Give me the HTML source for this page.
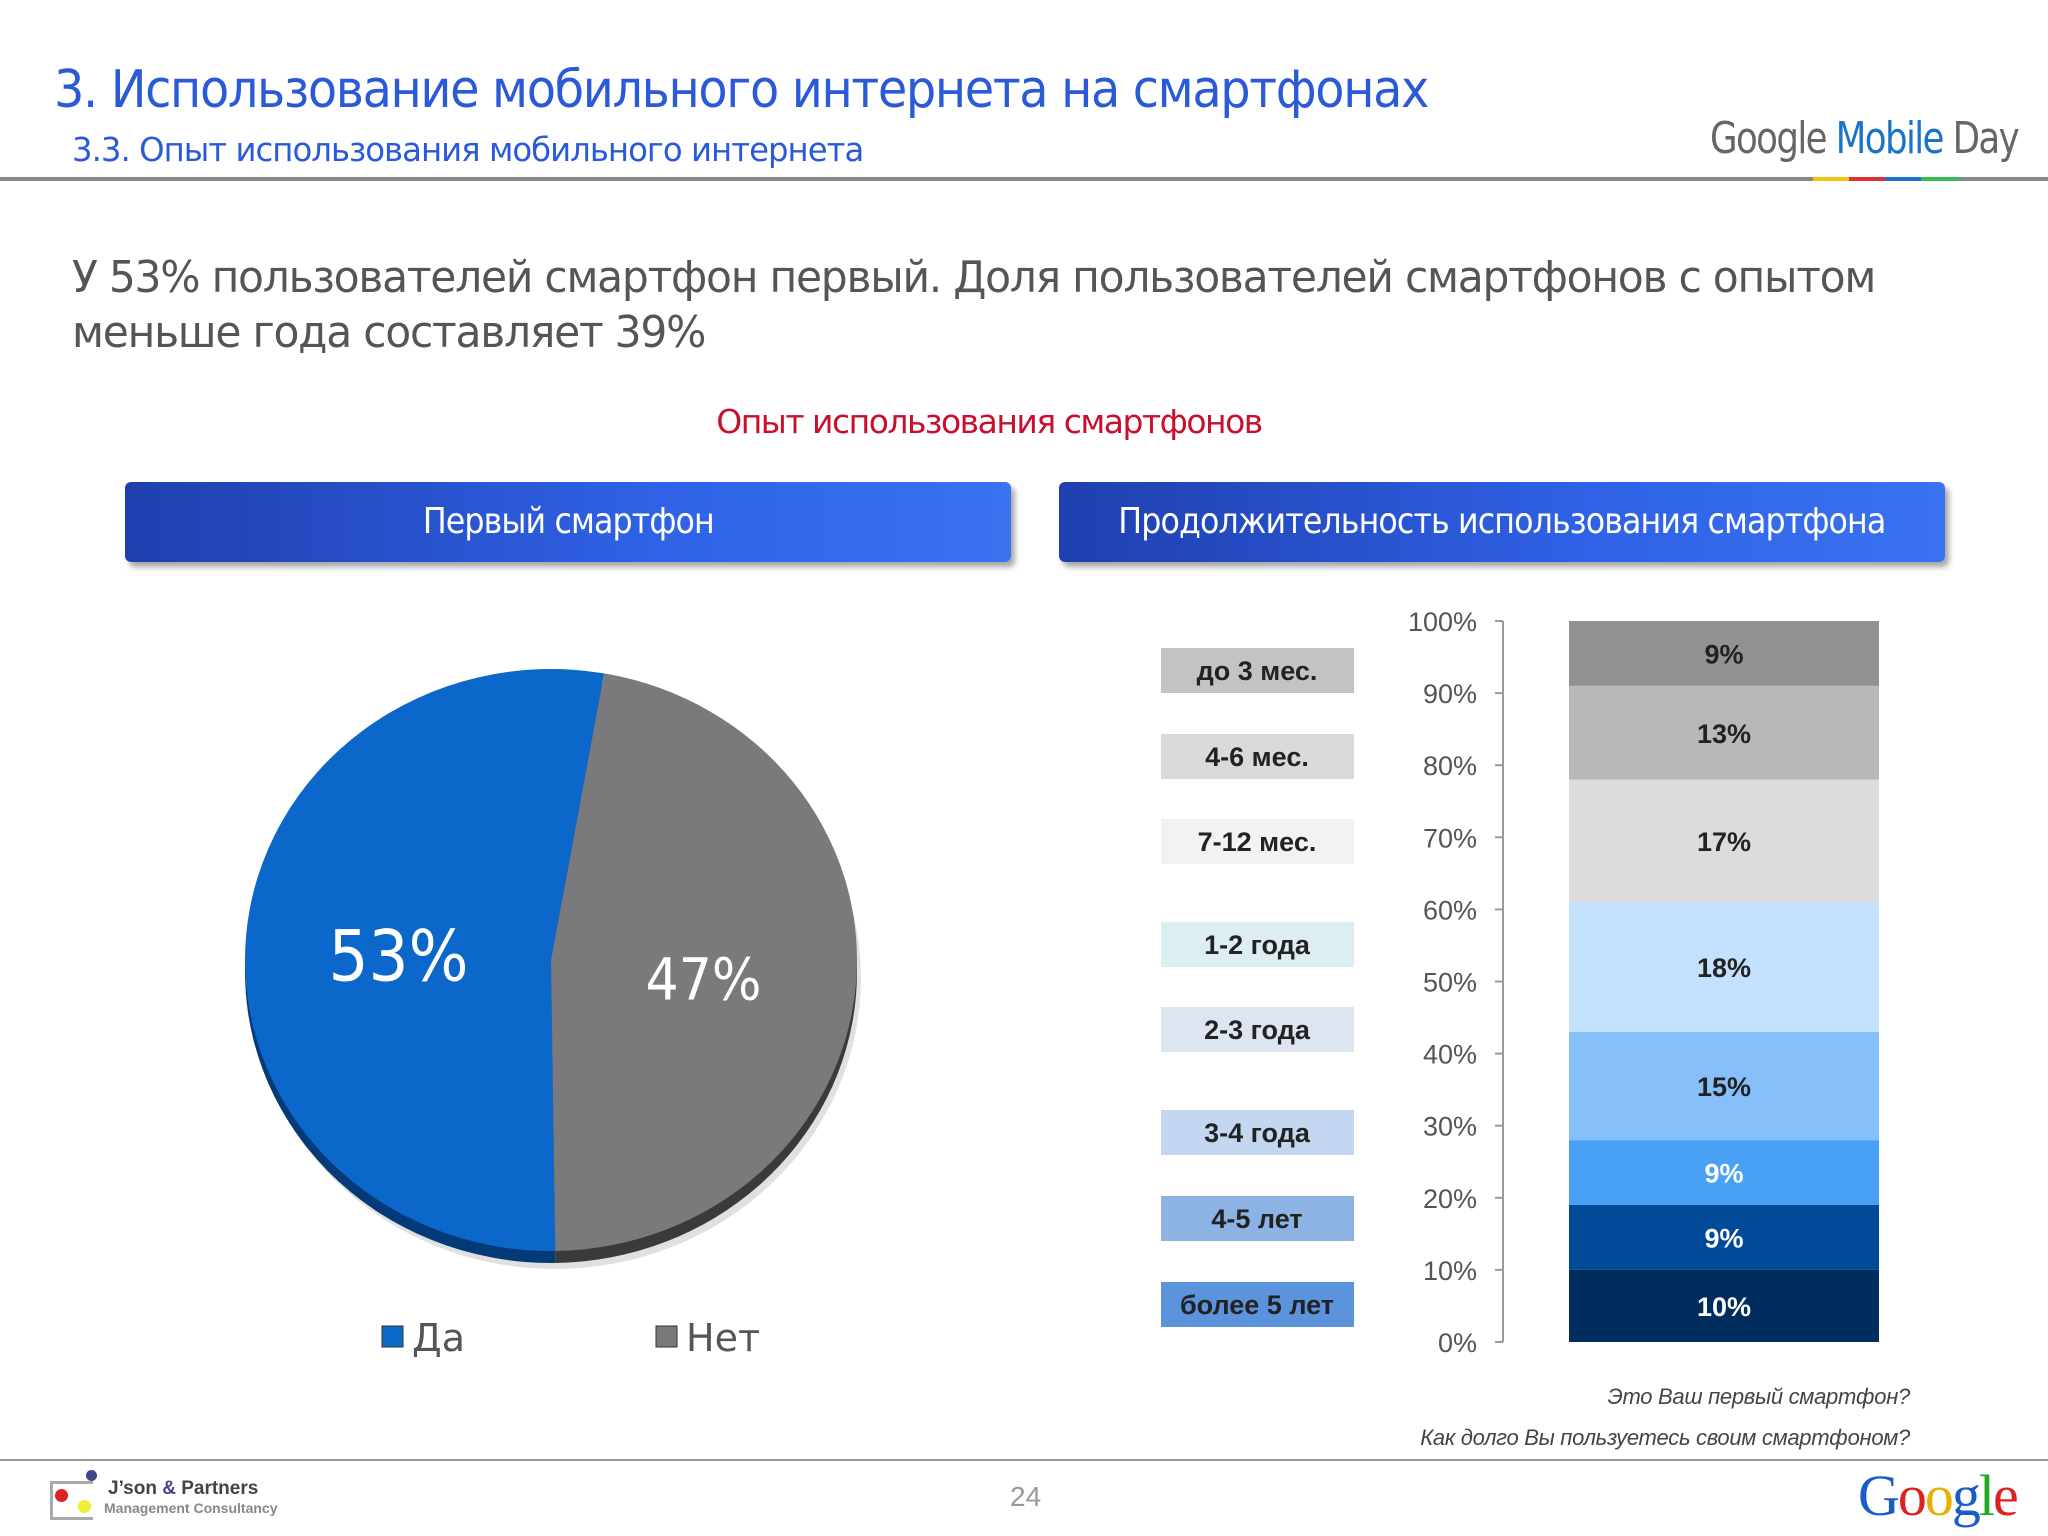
<!DOCTYPE html>
<html><head><meta charset="utf-8"><style>
body{margin:0;width:2048px;height:1536px;background:#fff;position:relative;overflow:hidden;font-family:"Liberation Sans","DejaVu Sans",sans-serif}
.a{position:absolute;white-space:nowrap}
.sx{transform-origin:0 0}
.hb{position:absolute;height:80px;border-radius:6px;background:linear-gradient(90deg,#1f3fae,#2f62e6 60%,#3a72f0);box-shadow:4px 5px 6px rgba(0,0,0,.35);color:#fff;font-size:36px;line-height:80px;text-align:center;font-family:"DejaVu Sans","Liberation Sans",sans-serif;letter-spacing:-1px}
.hb span{display:inline-block;transform:scaleX(.88)}
</style></head><body>
<div class="a sx" style="left:54px;top:60px;font-size:52px;color:#2a5ad8;font-family:'DejaVu Sans',sans-serif;letter-spacing:-1.5px;transform:scaleX(.92)">3. Использование мобильного интернета на смартфонах</div>
<div class="a sx" style="left:72px;top:130px;font-size:33px;color:#2a5ad8;font-family:'DejaVu Sans',sans-serif;letter-spacing:-1px;transform:scaleX(.98)">3.3. Опыт использования мобильного интернета</div>
<div class="a sx" style="left:1710px;top:113px;font-size:44px;color:#666;font-family:'DejaVu Sans',sans-serif;letter-spacing:-2px;transform:scaleX(.81)">Google <span style="color:#1a73c8">Mobile</span> Day</div>
<div class="a" style="left:0;top:177px;width:2048px;height:4px;background:#888"></div>
<div class="a" style="left:1813px;top:177px;width:36px;height:4px;background:#f4c20d"></div>
<div class="a" style="left:1849px;top:177px;width:36px;height:4px;background:#db3236"></div>
<div class="a" style="left:1885px;top:177px;width:36px;height:4px;background:#1a73c8"></div>
<div class="a" style="left:1921px;top:177px;width:38px;height:4px;background:#3cba54"></div>
<div class="a sx" style="left:72px;top:250px;font-size:44px;line-height:55px;color:#555;font-family:'DejaVu Sans',sans-serif;letter-spacing:-1.3px;transform:scaleX(.964)">У 53% пользователей смартфон первый. Доля пользователей смартфонов с опытом<br>меньше года составляет 39%</div>
<div class="a" style="left:0;width:1978px;text-align:center;top:402px;font-size:33px;color:#c8102e;font-family:'DejaVu Sans',sans-serif;letter-spacing:-1.5px">Опыт использования смартфонов</div>
<div class="hb" style="left:125px;top:482px;width:886px"><span>Первый смартфон</span></div>
<div class="hb" style="left:1059px;top:482px;width:886px"><span>Продолжительность использования смартфона</span></div>

<svg id="pie" class="a" style="left:0;top:0" width="1100" height="1400"></svg>
<svg id="bar" class="a" style="left:0;top:0" width="2048" height="1400"></svg>

<div class="a" style="right:138px;top:1384px;font-size:22px;font-style:italic;color:#444;letter-spacing:-0.3px">Это Ваш первый смартфон?</div>
<div class="a" style="right:138px;top:1425px;font-size:22px;font-style:italic;color:#444;letter-spacing:-0.3px">Как долго Вы пользуетесь своим смартфоном?</div>
<div class="a" style="left:0;top:1459px;width:2048px;height:2px;background:#999"></div>
<div class="a" style="left:1010px;top:1481px;font-size:28px;color:#999">24</div>
<div class="a" style="left:50px;top:1481px;width:40px;height:33px;border:3px solid #aaa;border-right:none"></div>
<div class="a" style="left:55px;top:1489px;width:13px;height:13px;border-radius:50%;background:#d22"></div>
<div class="a" style="left:78px;top:1500px;width:13px;height:13px;border-radius:50%;background:#ee3"></div>
<div class="a" style="left:86px;top:1470px;width:11px;height:11px;border-radius:50%;background:#448"></div>
<div class="a" style="left:108px;top:1478px;font-size:19px;font-weight:bold;color:#444">J’son <span style="color:#448">&amp;</span> Partners</div>
<div class="a" style="left:104px;top:1500px;font-size:14px;color:#888;font-weight:bold">Management Consultancy</div>
<div class="a" style="left:1858px;top:1462px;font-size:58px;font-family:'Liberation Serif',serif;letter-spacing:-2px"><span style="color:#1a5dc8">G</span><span style="color:#d22">o</span><span style="color:#e8b000">o</span><span style="color:#1a5dc8">g</span><span style="color:#2a2">l</span><span style="color:#d22">e</span></div>

<script>
// Pie data
const pieLabels=["Да","Нет"];
const pieValues=[53,47];
// Bar data (bottom to top)
const barCats=["более 5 лет","4-5 лет","3-4 года","2-3 года","1-2 года","7-12 мес.","4-6 мес.","до 3 мес."];
const barValues=[10,9,9,15,18,17,13,9];
const yTicks=[0,10,20,30,40,50,60,70,80,90,100];

const NS="http://www.w3.org/2000/svg";
function mk(p,t,at){const e=document.createElementNS(NS,t);for(const k in at)e.setAttribute(k,at[k]);p.appendChild(e);return e;}

// ---- Pie ----
const pie=document.getElementById('pie');
const cx=551,cy=960,rx=306,ry=291,depth=12,start=10;
const pieCols=["#0b67c9","#7a797b"],pieDark=["#053a78","#3a3a3c"];
const total=pieValues.reduce((a,b)=>a+b,0);
function pt(a,dy){const r=a*Math.PI/180;return [cx+rx*Math.sin(r),cy-ry*Math.cos(r)+(dy||0)];}
const sh=mk(pie,'ellipse',{cx:cx+4,cy:cy+depth+6,rx:rx,ry:ry,fill:'rgba(0,0,0,0.12)'});

const angs=[[start-360*pieValues[0]/total,start],[start,start+360*pieValues[1]/total]];
for(let d=0;d<2;d++){
 for(let i=0;i<2;i++){
  const [a0,a1]=angs[i];const dy=d==0?depth:0;
  const p0=pt(a0,dy),p1=pt(a1,dy);const large=(a1-a0)>180?1:0;
  const s=mk(pie,'path',{d:`M${cx},${cy+dy}L${p0[0]},${p0[1]}A${rx},${ry} 0 ${large} 1 ${p1[0]},${p1[1]}Z`,fill:d==0?pieDark[i]:pieCols[i]});
  
  
 }
}
for(let i=0;i<2;i++){
 const mid=(angs[i][0]+angs[i][1])/2;const p=pt(mid);
 const t=mk(pie,'text',{x:cx+(p[0]-cx)*0.5,y:cy+(p[1]-cy)*0.5+(i==0?32:28),'font-size':i==0?70:58,fill:'#fff','text-anchor':'middle','font-family':'DejaVu Sans, sans-serif',transform:`translate(${(cx+(p[0]-cx)*0.5)*0.1},0) scale(0.9,1)`});
 t.textContent=pieValues[i]+'%';
 
}
const legX=[382,656];
for(let i=0;i<2;i++){
 const r=mk(pie,'rect',{x:legX[i],y:1326,width:21,height:21,fill:pieCols[i],stroke:'#333','stroke-width':1});
 
 const t=mk(pie,'text',{x:legX[i]+30,y:1351,'font-size':38,fill:'#555','font-family':'DejaVu Sans, sans-serif'});
 t.textContent=pieLabels[i];
 
}

// ---- Stacked bar ----
const bar=document.getElementById('bar');
const y0=1342,y1=621,axX=1503,bx=1569,bw=310;
const Y=v=>y0-(y0-y1)*v/100;
const barCols=["#002d5e","#004a97","#48a1f5","#86c0fb","#c3e0fc","#dcdcde","#b8b8ba","#929194"];
const txtCols=["#fff","#fff","#fff","#222","#222","#222","#222","#222"];
const legCols=["#5b94dc","#8cb3e4","#c4d7f0","#dde5f0","#ddeef3","#f2f2f3","#dadadb","#c3c3c4"];
const ax=mk(bar,'line',{x1:axX,y1:Y(100),x2:axX,y2:Y(0),stroke:'#999','stroke-width':2});

yTicks.forEach(v=>{
 const l=mk(bar,'line',{x1:axX-8,y1:Y(v),x2:axX,y2:Y(v),stroke:'#999','stroke-width':2});
 
 const t=mk(bar,'text',{x:axX-26,y:Y(v)+10,'font-size':27,fill:'#555','text-anchor':'end'});
 t.textContent=v+'%';
 
});
let cum=0;
const legY=[1304,1218,1132,1029,944,841,756,670];
barValues.forEach((v,i)=>{
 const r=mk(bar,'rect',{x:bx,y:Y(cum+v),width:bw,height:Y(cum)-Y(cum+v),fill:barCols[i]});
 
 const t=mk(bar,'text',{x:bx+bw/2,y:(Y(cum)+Y(cum+v))/2+10,'font-size':27,'font-weight':'bold',fill:txtCols[i],'text-anchor':'middle'});
 t.textContent=v+'%';
 
 const lr=mk(bar,'rect',{x:1161,y:legY[i]-22,width:193,height:45,fill:legCols[i]});
 
 const lt=mk(bar,'text',{x:1257,y:legY[i]+10,'font-size':27,'font-weight':'bold',fill:'#222','text-anchor':'middle'});
 lt.textContent=barCats[i];
 
 cum+=v;
});
</script>
</body></html>
